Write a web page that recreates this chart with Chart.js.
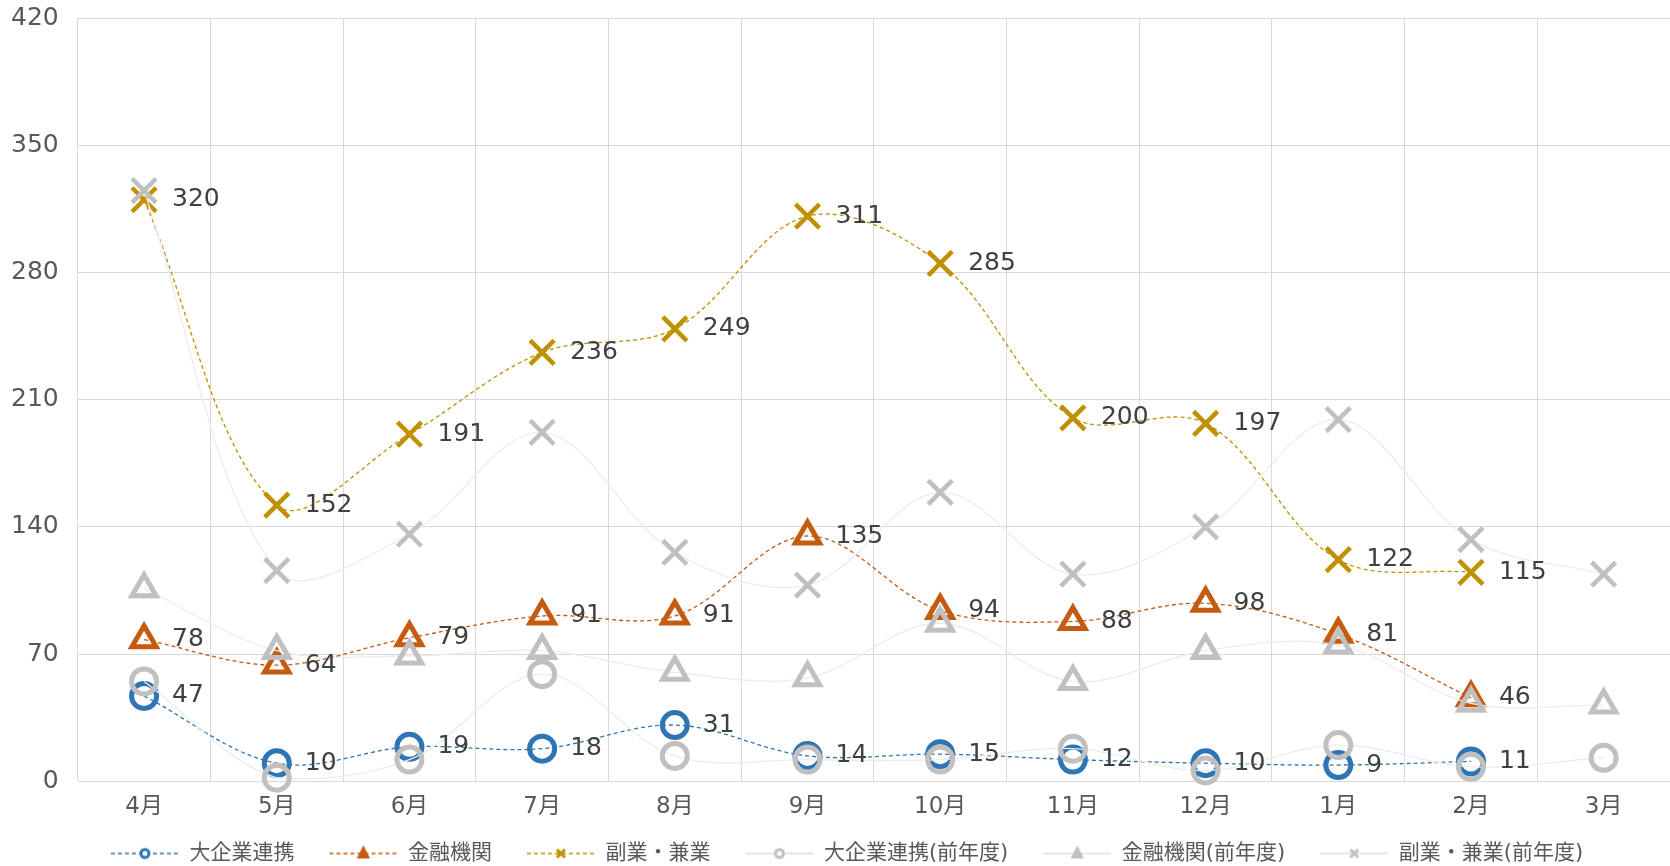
<!DOCTYPE html>
<html lang="ja">
<head>
<meta charset="utf-8">
<title>月別件数</title>
<script src="https://cdn.jsdelivr.net/npm/chart.js@4"></script>
<style>
  html, body { margin: 0; padding: 0; background: #fff; }
  #wrap { width: 1670px; height: 866px; }
</style>
</head>
<body>
<div id="wrap"><canvas id="chart"></canvas></div>
<script>
// 月 (年度: 4月始まり)
const months = ["4月", "5月", "6月", "7月", "8月", "9月", "10月", "11月", "12月", "1月", "2月", "3月"];

// 今年度
const daikigyo = [47, 10, 19, 18, 31, 14, 15, 12, 10, 9, 11, null];
const kinyu = [78, 64, 79, 91, 91, 135, 94, 88, 98, 81, 46, null];
const fukugyo = [320, 152, 191, 236, 249, 311, 285, 200, 197, 122, 115, null];

// 前年度
const daikigyoPrev = [55, 2, 12, 59, 14, 12, 12, 18, 6, 20, 8, 13];
const kinyuPrev = [106, 72, 69, 72, 60, 57, 87, 55, 72, 75, 43, 42];
const fukugyoPrev = [325, 116, 136, 192, 126, 108, 159, 114, 140, 199, 133, 114];

const yTicks = [0, 70, 140, 210, 280, 350, 420];

const FONT = "'DejaVu Sans', 'Noto Sans CJK JP', sans-serif";
const BLUE = "#2e75b6";
const ORANGE = "#c55a11";
const GOLD = "#bf9000";
const GRAY = "#c0c0c0";
const GRAY_LINE = "#ececec";

// 凡例用のアイコン（左に余白、線＋マーカー）
const ICON_GAP = 13;
const ICON_W = 68;

function legendIcon(color, lineColor, dashed, style) {
  const c = document.createElement("canvas");
  c.width = ICON_GAP + ICON_W;
  c.height = 20;
  const g = c.getContext("2d");
  const x0 = ICON_GAP;
  const cx = x0 + ICON_W / 2;
  g.strokeStyle = lineColor;
  g.lineWidth = 1.3;
  if (dashed) g.setLineDash([4, 3]);
  g.beginPath();
  g.moveTo(x0, 10);
  g.lineTo(x0 + ICON_W, 10);
  g.stroke();
  g.setLineDash([]);
  g.strokeStyle = color;
  g.fillStyle = color;
  if (style === "circle") {
    g.lineWidth = 3;
    g.fillStyle = "#fff";
    g.beginPath();
    g.arc(cx, 10, 4, 0, Math.PI * 2);
    g.fill();
    g.stroke();
  } else if (style === "triangle") {
    g.lineWidth = 2;
    g.beginPath();
    g.moveTo(cx, 4);
    g.lineTo(cx + 5, 14);
    g.lineTo(cx - 5, 14);
    g.closePath();
    g.fill();
    g.stroke();
  } else {
    g.lineWidth = 3;
    g.beginPath();
    g.moveTo(cx - 4, 6); g.lineTo(cx + 4, 14);
    g.moveTo(cx + 4, 6); g.lineTo(cx - 4, 14);
    g.stroke();
  }
  return c;
}

const icons = [
  legendIcon(BLUE, BLUE, true, "circle"),
  legendIcon(ORANGE, ORANGE, true, "triangle"),
  legendIcon(GOLD, GOLD, true, "cross"),
  legendIcon(GRAY, "#dcdcdc", false, "circle"),
  legendIcon(GRAY, "#dcdcdc", false, "triangle"),
  legendIcon(GRAY, "#dcdcdc", false, "cross"),
];

function currentSeries(label, data, color, style, radius, width) {
  return {
    label: label,
    data: data,
    borderColor: color,
    borderWidth: 1.3,
    borderDash: [4, 3],
    tension: 0.35,
    pointStyle: style,
    pointRadius: radius,
    pointBorderWidth: width,
    pointBorderColor: color,
    pointBackgroundColor: "rgba(0,0,0,0)",
    clip: false,
    order: 1,
  };
}

function prevSeries(label, data, style, radius, width) {
  return {
    label: label,
    data: data,
    borderColor: GRAY_LINE,
    borderWidth: 1.3,
    tension: 0.35,
    pointStyle: style,
    pointRadius: radius,
    pointBorderWidth: width,
    pointBorderColor: GRAY,
    pointBackgroundColor: "rgba(0,0,0,0)",
    clip: false,
    order: 0,
  };
}

// 今年度の各点の右に値を表示
const valueLabels = {
  id: "valueLabels",
  afterDatasetsDraw(chart) {
    const ctx = chart.ctx;
    ctx.save();
    ctx.font = "25px " + FONT;
    ctx.fillStyle = "#404040";
    ctx.textBaseline = "middle";
    ctx.textAlign = "left";
    [0, 1, 2].forEach(function (i) {
      const meta = chart.getDatasetMeta(i);
      meta.data.forEach(function (pt, j) {
        const v = chart.data.datasets[i].data[j];
        if (v === null || v === undefined) return;
        ctx.fillText(String(v), pt.x + 28, pt.y);
      });
    });
    ctx.restore();
  },
};

const chartConfig = {
  type: "line",
  data: {
    labels: months,
    datasets: [
      currentSeries("大企業連携", daikigyo, BLUE, "circle", 12.5, 5),
      currentSeries("金融機関", kinyu, ORANGE, "triangle", 14, 5),
      currentSeries("副業・兼業", fukugyo, GOLD, "crossRot", 17, 4.5),
      prevSeries("大企業連携(前年度)", daikigyoPrev, "circle", 12.5, 5),
      prevSeries("金融機関(前年度)", kinyuPrev, "triangle", 14, 5),
      prevSeries("副業・兼業(前年度)", fukugyoPrev, "crossRot", 17, 4.5),
    ],
  },
  options: {
    responsive: true,
    maintainAspectRatio: false,
    animation: false,
    events: [],
    layout: {
      autoPadding: false,
      padding: { top: 18, left: 11, right: 0, bottom: -8 },
    },
    scales: {
      x: {
        offset: true,
        // 目盛り線は透明にして、ラベルとの間隔だけ確保する
        grid: { offset: true, color: "#d9d9d9", drawTicks: true, tickLength: 12, tickColor: "rgba(0,0,0,0)" },
        border: { display: false },
        ticks: { color: "#595959", font: { size: 23, family: FONT }, padding: 0 },
      },
      y: {
        min: 0,
        max: 420,
        afterBuildTicks: function (axis) {
          axis.ticks = yTicks.map(function (v) { return { value: v }; });
        },
        grid: { color: "#d9d9d9", drawTicks: true, tickLength: 19, tickColor: "rgba(0,0,0,0)" },
        border: { display: false },
        ticks: { color: "#595959", font: { size: 25, family: FONT }, padding: 0 },
      },
    },
    plugins: {
      tooltip: { enabled: false },
      legend: {
        position: "bottom",
        labels: {
          usePointStyle: true,
          pointStyleWidth: ICON_GAP + ICON_W,
          boxHeight: 20,
          padding: 22,
          color: "#595959",
          font: { size: 21, family: FONT },
          sort: function (a, b) { return a.datasetIndex - b.datasetIndex; },
          generateLabels: function (chart) {
            const items = Chart.defaults.plugins.legend.labels.generateLabels(chart);
            items.forEach(function (it) { it.pointStyle = icons[it.datasetIndex]; });
            return items;
          },
        },
      },
    },
  },
  plugins: [valueLabels],
};

new Chart(document.getElementById("chart"), chartConfig);
</script>
</body>
</html>
